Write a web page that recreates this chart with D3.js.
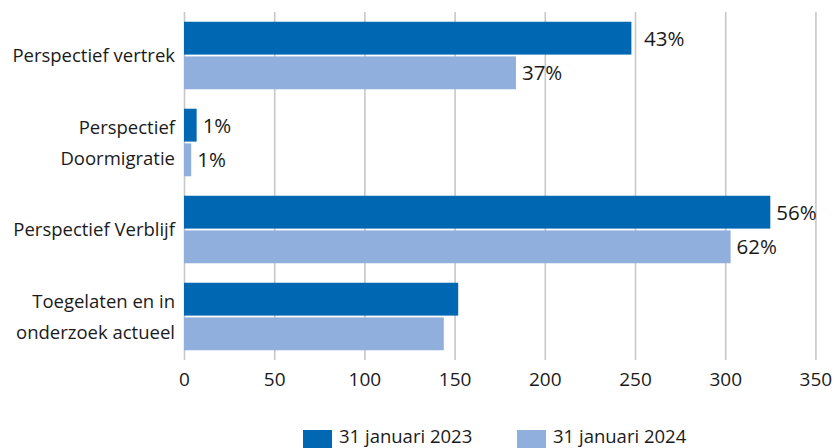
<!DOCTYPE html>
<html>
<head>
<meta charset="utf-8">
<script src="https://cdn.jsdelivr.net/npm/d3@7"></script>
<style>
  html, body { margin: 0; padding: 0; background: #fff; }
  svg { display: block; font-family: "Open Sans", "Noto Sans", sans-serif; }
</style>
</head>
<body>
<svg id="chart" width="835" height="448"></svg>
<script>
// Categories (top to bottom), with line breaks for wrapped labels
const categories = [
  ["Perspectief vertrek"],
  ["Perspectief", "Doormigratie"],
  ["Perspectief Verblijf"],
  ["Toegelaten en in", "onderzoek actueel"]
];
const seriesNames = ["31 januari 2023", "31 januari 2024"];
const values2023 = [248, 7, 325, 152];
const values2024 = [184, 4, 303, 144];
// Percentage labels (null = no label)
const labels2023 = ["43%", "1%", "56%", null];
const labels2024 = ["37%", "1%", "62%", null];
const xTicks = [0, 50, 100, 150, 200, 250, 300, 350];

const colors = ["#0067b2", "#91afdc"];
const series = [
  { name: seriesNames[0], values: values2023, labels: labels2023, color: colors[0] },
  { name: seriesNames[1], values: values2024, labels: labels2024, color: colors[1] }
];

const svg = d3.select("#chart");
const margin = { top: 12, left: 184, right: 20, bottom: 88 };
const width = 835, height = 448;
const plotBottom = height - margin.bottom; // 360
const textColor = "#1a1a1a";

const x = d3.scaleLinear().domain([0, 350]).range([margin.left, margin.left + 631.4]);
const y = d3.scaleBand().domain(d3.range(categories.length))
  .range([margin.top, plotBottom]).paddingInner(0.224).paddingOuter(0.112);
const ySub = d3.scaleBand().domain([0, 1]).range([0, y.bandwidth()]).paddingInner(0.052);

// Gridlines and value axis
const xAxis = d3.axisBottom(x).tickValues(xTicks).tickSize(plotBottom - margin.top).tickPadding(13);
const gx = svg.append("g").attr("transform", `translate(0,${margin.top})`).call(xAxis);
gx.select(".domain").remove();
gx.selectAll(".tick line").attr("stroke", "#c8c8c8").attr("stroke-width", 1.6);
gx.selectAll(".tick text").attr("fill", textColor).style("font-size", "19px")
  .attr("font-family", "'Open Sans', 'Noto Sans', sans-serif");

// Bars
series.forEach((s, si) => {
  svg.append("g").selectAll("rect").data(s.values).join("rect")
    .attr("x", x(0))
    .attr("y", (d, i) => y(i) + ySub(si))
    .attr("width", d => x(d) - x(0))
    .attr("height", ySub.bandwidth())
    .attr("fill", s.color);
});

// Value labels; nudge past a gridline if the label would sit on it
series.forEach((s, si) => {
  s.values.forEach((v, i) => {
    if (!s.labels[i]) return;
    let lx = x(v) + 6;
    xTicks.forEach(t => {
      const gxPos = x(t);
      if (gxPos >= x(v) && gxPos < lx + 4) lx = gxPos + 9;
    });
    svg.append("text")
      .attr("x", lx)
      .attr("y", y(i) + ySub(si) + ySub.bandwidth() / 2)
      .attr("dy", "0.36em")
      .attr("fill", textColor)
      .style("font-size", "20.5px")
      .text(s.labels[i]);
  });
});

// Category labels
categories.forEach((lines, i) => {
  const cy = y(i) + y.bandwidth() / 2;
  const lh = 31;
  const t = svg.append("text")
    .attr("text-anchor", "end")
    .attr("fill", textColor)
    .style("font-size", "18.5px");
  lines.forEach((ln, k) => {
    t.append("tspan")
      .attr("x", margin.left - 9)
      .attr("y", cy + (k - (lines.length - 1) / 2) * lh)
      .attr("dy", "0.36em")
      .text(ln);
  });
});

// Legend
const legendX = [303, 517];
series.forEach((s, si) => {
  const g = svg.append("g").attr("transform", `translate(${legendX[si]},430)`);
  g.append("rect").attr("width", 29).attr("height", 22).attr("fill", s.color);
  g.append("text").attr("x", 36).attr("y", 13)
    .attr("fill", textColor).style("font-size", "18.5px").text(s.name);
});
</script>
</body>
</html>
